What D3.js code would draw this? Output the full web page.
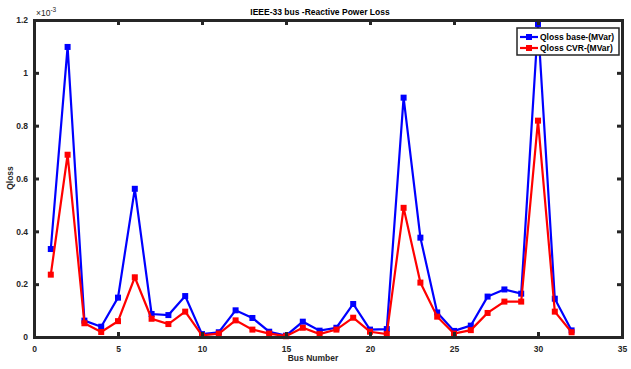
<!DOCTYPE html>
<html>
<head>
<meta charset="utf-8">
<script src="https://cdn.jsdelivr.net/npm/d3@7"></script>
<style>
  html, body { margin: 0; padding: 0; background: #fff; }
  svg { display: block; font-family: "Liberation Sans", Arial, sans-serif; }
</style>
</head>
<body>
<svg id="chart" width="631" height="369"></svg>
<script>
// Bus numbers along the feeder
const buses = d3.range(1, 33);
// Reactive power loss per branch (×10^-3 MVar)
const qlossBase = [0.333, 1.098, 0.062, 0.039, 0.149, 0.561, 0.087, 0.083, 0.155, 0.011,
                   0.018, 0.101, 0.072, 0.020, 0.005, 0.058, 0.024, 0.035, 0.125, 0.028,
                   0.030, 0.906, 0.376, 0.093, 0.023, 0.043, 0.153, 0.180, 0.164, 1.185,
                   0.145, 0.025];
const qlossCvr  = [0.236, 0.690, 0.052, 0.019, 0.060, 0.226, 0.069, 0.049, 0.096, 0.006,
                   0.013, 0.063, 0.028, 0.013, 0.003, 0.035, 0.011, 0.028, 0.073, 0.020,
                   0.011, 0.489, 0.206, 0.077, 0.013, 0.026, 0.091, 0.134, 0.134, 0.819,
                   0.096, 0.018];
const xTicks = [0, 5, 10, 15, 20, 25, 30, 35];
const yTicks = [0, 0.2, 0.4, 0.6, 0.8, 1, 1.2];
const seriesNames = ["Qloss base-(MVar)", "Qloss CVR-(MVar)"];
const seriesColors = ["#0000ff", "#ff0000"];

const svg = d3.select("#chart");
const plotLeft = 34, plotRight = 622, plotTop = 20, plotBottom = 337;
const axisColor = "#262626";

const x = d3.scaleLinear().domain([0, 35]).range([plotLeft, plotRight]);
const y = d3.scaleLinear().domain([0, 1.2]).range([plotBottom, plotTop]);

// Series lines and square markers
const series = [qlossBase, qlossCvr];
series.forEach((vals, i) => {
  const pts = buses.map((b, k) => [b, vals[k]]);
  svg.append("path")
    .attr("d", d3.line().x(d => x(d[0])).y(d => y(d[1]))(pts))
    .attr("fill", "none")
    .attr("stroke", seriesColors[i])
    .attr("stroke-width", 2.2)
    .attr("stroke-linejoin", "miter");
  svg.append("g").selectAll("rect").data(pts).join("rect")
    .attr("x", d => x(d[0]) - 3)
    .attr("y", d => y(d[1]) - 3)
    .attr("width", 6).attr("height", 6)
    .attr("fill", seriesColors[i]);
});

// Axes: box with inward ticks on all four sides
const tickLen = 5;
const axB = d3.axisBottom(x).tickValues(xTicks).tickSize(-tickLen).tickPadding(9).tickFormat(d3.format("d"));
const axT = d3.axisTop(x).tickValues(xTicks).tickSize(-tickLen).tickFormat("");
const axL = d3.axisLeft(y).tickValues(yTicks).tickSize(-tickLen).tickPadding(6).tickFormat(d => d3.format("~g")(d));
const axR = d3.axisRight(y).tickValues(yTicks).tickSize(-tickLen).tickFormat("");

function styleAxis(g) {
  g.select(".domain").attr("stroke", axisColor).attr("stroke-width", 3);
  g.selectAll(".tick line").attr("stroke", axisColor).attr("stroke-width", 3);
  g.selectAll(".tick text").attr("fill", "#262626")
    .attr("font-size", 8.5).attr("font-weight", "bold")
    .attr("font-family", "Liberation Sans, Arial, sans-serif");
}
svg.append("g").attr("transform", `translate(0,${plotBottom})`).call(axB).call(styleAxis);
svg.append("g").attr("transform", `translate(0,${plotTop})`).call(axT).call(styleAxis);
svg.append("g").attr("transform", `translate(${plotLeft},0)`).call(axL).call(styleAxis);
svg.append("g").attr("transform", `translate(${plotRight},0)`).call(axR).call(styleAxis);
svg.selectAll(".domain").attr("stroke-linecap", "square");

// Exponent label
const exp = svg.append("text").attr("x", plotLeft + 2).attr("y", 16)
  .attr("font-size", 8.5).attr("fill", "#262626");
exp.append("tspan").text("\u00d710");
exp.append("tspan").attr("dy", -4).attr("font-size", 6.5).text("-3");

// Title and axis labels
svg.append("text").attr("x", 320).attr("y", 15).attr("text-anchor", "middle")
  .attr("font-size", 8.5).attr("font-weight", "bold").attr("fill", "#000")
  .text("IEEE-33 bus -Reactive Power Loss");
svg.append("text").attr("x", 313).attr("y", 361).attr("text-anchor", "middle")
  .attr("font-size", 8.5).attr("font-weight", "bold").attr("fill", "#262626")
  .text("Bus Number");
svg.append("text").attr("transform", "translate(13,178) rotate(-90)").attr("text-anchor", "middle")
  .attr("font-size", 8.5).attr("font-weight", "bold").attr("fill", "#262626")
  .text("Qloss");

// Legend
const lg = svg.append("g").attr("transform", "translate(517,28)");
lg.append("rect").attr("width", 102).attr("height", 27)
  .attr("fill", "#fff").attr("stroke", axisColor).attr("stroke-width", 1.5);
seriesNames.forEach((name, i) => {
  const cy = 9 + i * 11;
  lg.append("line").attr("x1", 3).attr("x2", 21).attr("y1", cy).attr("y2", cy)
    .attr("stroke", seriesColors[i]).attr("stroke-width", 2.2);
  lg.append("rect").attr("x", 9).attr("y", cy - 3).attr("width", 6).attr("height", 6)
    .attr("fill", seriesColors[i]);
  lg.append("text").attr("x", 23).attr("y", cy + 3).attr("font-size", 8.5)
    .attr("font-weight", "bold").attr("fill", "#000").text(name);
});
</script>
</body>
</html>
